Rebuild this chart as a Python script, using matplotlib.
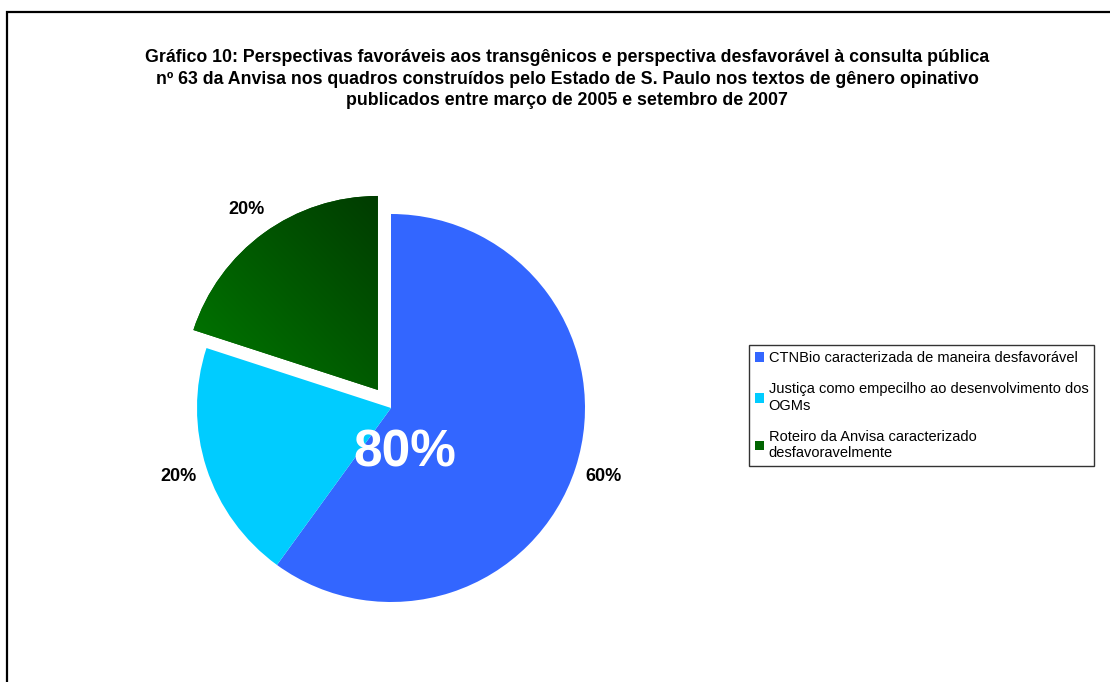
import numpy as np
import matplotlib
matplotlib.use("Agg")
import matplotlib.pyplot as plt
from matplotlib.patches import Rectangle
from matplotlib.colors import LinearSegmentedColormap

plt.rcParams['font.family'] = ['Liberation Sans', 'DejaVu Sans']

# --- Data ---
title = ("Gráfico 10: Perspectivas favoráveis aos transgênicos e perspectiva desfavorável à consulta pública\n"
         "nº 63 da Anvisa nos quadros construídos pelo Estado de S. Paulo nos textos de gênero opinativo\n"
         "publicados entre março de 2005 e setembro de 2007")
categories = ["CTNBio caracterizada de maneira desfavorável",
              "Justiça como empecilho ao desenvolvimento dos\nOGMs",
              "Roteiro da Anvisa caracterizado\ndesfavoravelmente"]
shares = [60, 20, 20]
colors = ['#3366FF', '#00CCFF', '#006400']

# --- Figure in pixel coordinates ---
W, H = 1110, 682
R = 194
fig = plt.figure(figsize=(W / 100, H / 100), dpi=100)
ax = fig.add_axes([0, 0, 1, 1])

# outer frame
ax.add_patch(Rectangle((7, -20), W + 50, H - 12 + 20, fill=False,
                       edgecolor='black', linewidth=1.6))

# title
ax.text(567, H - 79, title, ha='center', va='center', fontsize=12.8,
        fontweight='bold', linespacing=1.38)

# pie (explode is in data units here, i.e. pixels)
wedges, texts = ax.pie(shares, colors=colors, explode=[0, 0, 0.115 * R], startangle=90,
                       counterclock=False, center=(391, H - 408), radius=R,
                       labels=[f"{v}%" for v in shares], labeldistance=1.15,
                       textprops=dict(fontsize=13, fontweight='bold'),
                       wedgeprops=dict(linewidth=0), frame=True)
for t in texts:
    t.set_ha('center')
    t.set_va('center')
ax.set_xlim(0, W)
ax.set_ylim(0, H)
ax.axis('off')

# gradient on the exploded green wedge
green = wedges[2]
bb = green.get_path().get_extents(green.get_transform())
inv = ax.transData.inverted()
(x0, y0), (x1, y1) = inv.transform([[bb.x0, bb.y0], [bb.x1, bb.y1]])
gx, gy = np.meshgrid(np.linspace(0, 1, 200), np.linspace(0, 1, 200))
grad = (gx + gy) / 2
cmap = LinearSegmentedColormap.from_list('g', ['#007A00', '#003C00'])
im = ax.imshow(grad, cmap=cmap, extent=(x0, x1, y0, y1), origin='lower',
               aspect='auto', zorder=green.get_zorder() + 0.1)
im.set_clip_path(green)
ax.set_xlim(0, W)
ax.set_ylim(0, H)

# combined favourable share
ax.text(405, H - 453, f"{shares[0] + shares[1]}%", ha='center', va='center',
        fontsize=37, fontweight='bold', color='white', zorder=5)

# legend
leg = ax.legend(wedges, categories, loc='upper left',
                bbox_to_anchor=(749 / W, 1 - 345 / H), bbox_transform=fig.transFigure,
                borderaxespad=0, fontsize=10.5, frameon=True, fancybox=False,
                edgecolor='black', handlelength=0.65, handleheight=0.65,
                handletextpad=0.3, labelspacing=1.2, borderpad=0.4)
leg.get_frame().set_linewidth(1.0)

fig.savefig("out.png", dpi=100)
